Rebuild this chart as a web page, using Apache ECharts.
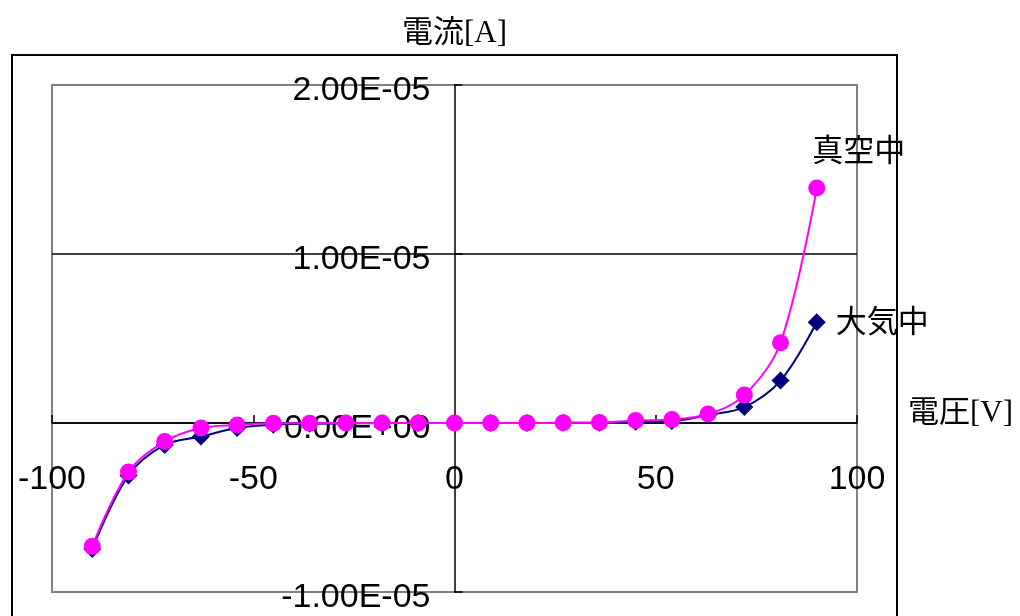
<!DOCTYPE html>
<html>
<head>
<meta charset="utf-8">
<script src="https://cdn.jsdelivr.net/npm/echarts@6/dist/echarts.min.js"></script>
<style>
  html, body { margin: 0; padding: 0; background: #fff; }
  #content { width: 1020px; height: 616px; }
</style>
</head>
<body>
<div id="content"></div>
<script>
// 電圧 [V]
var voltage = [-90, -81, -72, -63, -54, -45, -36, -27, -18, -9, 0, 9, 18, 27, 36, 45, 54, 63, 72, 81, 90];
// 電流 [A]（大気中）
var currentAir = [-0.745e-5, -0.31e-5, -0.13e-5, -0.08e-5, -0.03e-5, -0.01e-5, -0.004e-5, -0.002e-5, -0.001e-5, 0, 0, 0, 0, 0.001e-5, 0.002e-5, 0.008e-5, 0.012e-5, 0.047e-5, 0.094e-5, 0.251e-5, 0.596e-5];
// 電流 [A]（真空中）
var currentVacuum = [-0.73e-5, -0.29e-5, -0.11e-5, -0.03e-5, -0.012e-5, -0.002e-5, -0.001e-5, 0, 0, 0, 0, 0, 0, 0.001e-5, 0.003e-5, 0.015e-5, 0.02e-5, 0.053e-5, 0.165e-5, 0.475e-5, 1.39e-5];
var seriesNames = ["大気中", "真空中"];

var numFont = "'Liberation Sans Narrow', 'Arial Narrow', 'Liberation Sans', sans-serif";
var titleFont = "'Liberation Serif', 'Noto Sans CJK JP', serif";

// グリッドの位置（軸は0の位置へずらす）
var gridLeft = 52, gridRight = 163, gridTop = 85, gridBottom = 24;
var xMin = -100, xMax = 100, yMin = -1e-5, yMax = 2e-5;
var plotW = 1020 - gridLeft - gridRight;
var plotH = 616 - gridTop - gridBottom;
var yAxisShift = plotW * (0 - xMin) / (xMax - xMin);
var xAxisShift = plotH * (0 - yMin) / (yMax - yMin);

function pairs(xs, ys) {
    var out = [];
    for (var i = 0; i < xs.length; i++) {
        out.push([xs[i], ys[i]]);
    }
    return out;
}

// Excel風の指数表記 2.00E-05（少し下にずらすため空行を上に入れる）
function expLabel(v) {
    var s = Number(v).toExponential(2).toUpperCase();
    var parts = s.split("E");
    var sign = parts[1].charAt(0);
    var digits = parts[1].slice(1);
    if (digits.length < 2) digits = "0" + digits;
    return "{gap|}\n{t|" + parts[0] + "E" + sign + digits + "}";
}

var airData = pairs(voltage, currentAir);
var vacData = pairs(voltage, currentVacuum);

// 最後の点にだけ系列名を付ける
airData[airData.length - 1] = {
    value: airData[airData.length - 1],
    label: { show: true, formatter: seriesNames[0], position: "right", distance: 10, offset: [0, -2] }
};
vacData[vacData.length - 1] = {
    value: vacData[vacData.length - 1],
    label: { show: true, formatter: seriesNames[1], position: "top", distance: 15, offset: [42, 0] }
};

var myChart = echarts.init(document.getElementById("content"));

myChart.setOption({
    backgroundColor: "#ffffff",
    animation: false,
    graphic: [{
        type: "rect",
        shape: { x: 12, y: 55, width: 885, height: 600 },
        style: { fill: "none", stroke: "#000000", lineWidth: 2 },
        silent: true
    }],
    grid: {
        left: gridLeft,
        right: gridRight,
        top: gridTop,
        bottom: gridBottom,
        show: true,
        borderColor: "#808080",
        borderWidth: 2,
        backgroundColor: "transparent",
        outerBoundsMode: "none"
    },
    xAxis: {
        type: "value",
        position: "bottom",
        offset: -xAxisShift,
        min: xMin,
        max: xMax,
        interval: 50,
        name: "{t|電圧[V]}\n{gap|}",
        nameLocation: "end",
        nameGap: 51,
        nameTextStyle: {
            color: "#000",
            rich: {
                t: { fontFamily: titleFont, fontSize: 31, lineHeight: 31, color: "#000" },
                gap: { lineHeight: 18, fontSize: 1 }
            }
        },
        axisLine: { onZero: false, lineStyle: { color: "#000", width: 1.5 } },
        axisTick: { show: true, inside: true, length: 8, lineStyle: { color: "#000", width: 1.5 } },
        axisLabel: {
            fontFamily: numFont,
            fontSize: 34,
            color: "#000",
            margin: 40
        },
        splitLine: { show: false }
    },
    yAxis: {
        type: "value",
        position: "left",
        offset: -yAxisShift,
        min: yMin,
        max: yMax,
        interval: 1e-5,
        name: "電流[A]",
        nameLocation: "end",
        nameGap: 36,
        nameTextStyle: {
            fontFamily: titleFont,
            fontSize: 31,
            color: "#000",
            align: "center"
        },
        axisLine: { onZero: false, lineStyle: { color: "#000", width: 1.5 } },
        axisTick: { show: true, inside: true, length: 8, lineStyle: { color: "#000", width: 1.5 } },
        axisLabel: {
            color: "#000",
            margin: 24,
            formatter: expLabel,
            rich: {
                t: { fontFamily: numFont, fontSize: 34, lineHeight: 34, color: "#000" },
                gap: { lineHeight: 12, fontSize: 1 }
            }
        },
        splitLine: {
            show: true,
            showMinLine: false,
            showMaxLine: false,
            lineStyle: { color: "#000", width: 1.5 }
        }
    },
    series: [{
        name: seriesNames[0],
        type: "line",
        data: airData,
        smooth: 0.35,
        symbol: "diamond",
        symbolSize: 18,
        lineStyle: { color: "#000080", width: 2 },
        itemStyle: { color: "#000080" },
        label: {
            fontFamily: "'Noto Sans CJK JP', sans-serif",
            fontSize: 31,
            color: "#000"
        },
        z: 2
    }, {
        name: seriesNames[1],
        type: "line",
        data: vacData,
        smooth: 0.35,
        symbol: "circle",
        symbolSize: 17,
        lineStyle: { color: "#ff00ff", width: 2 },
        itemStyle: { color: "#ff00ff" },
        label: {
            fontFamily: "'Noto Sans CJK JP', sans-serif",
            fontSize: 31,
            color: "#000"
        },
        z: 3
    }]
});
</script>
</body>
</html>
